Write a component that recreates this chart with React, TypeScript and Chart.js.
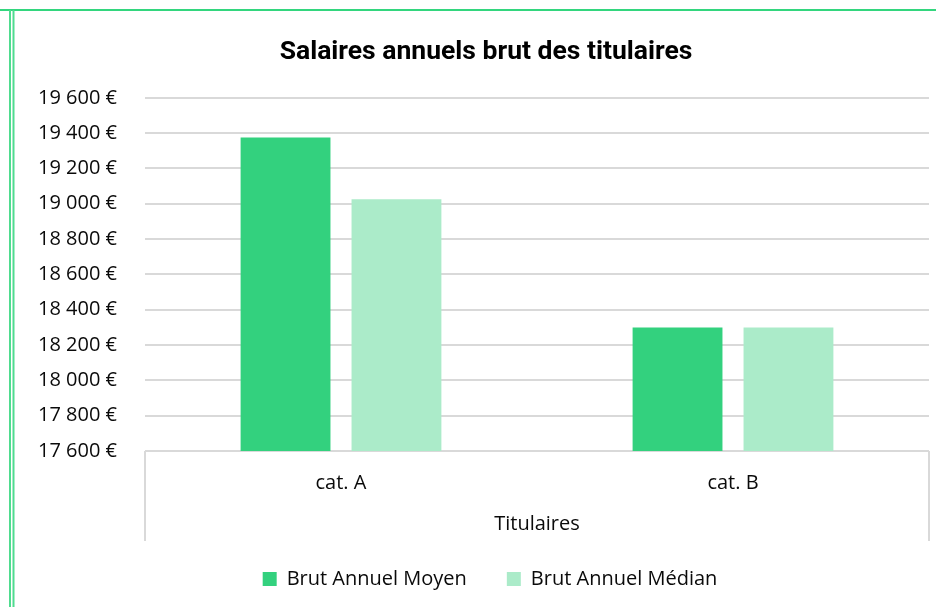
import React, { useEffect, useRef } from 'react';
import { Chart, registerables } from 'chart.js';

Chart.register(...registerables);

const chartTitle = 'Salaires annuels brut des titulaires';
const categories = ['cat. A', 'cat. B'];
const groupLabel = 'Titulaires';
const seriesNames = ['Brut Annuel Moyen', 'Brut Annuel Médian'];
const brutMoyen = [19375, 18300];
const brutMedian = [19025, 18300];
const yMin = 17600;
const yMax = 19600;
const yStep = 200;

const colMoyen = '#33D17E';
const colMedian = '#ABEBC9';
const gridCol = '#d9d9d9';
const textCol = '#0a0a0a';
const tickFont = 'Open Sans';
const fontSize = 20;

function fmtEuro(v: number): string {
  const th = Math.floor(v / 1000);
  const r = Math.round(v % 1000);
  return `${th} ${String(r).padStart(3, '0')} €`;
}

const framePlugin = {
  id: 'framePlugin',
  afterLayout(chart: any) {
    if (chart.titleBlock) {
      chart.titleBlock.left = 43;
    }
    if (chart.legend) {
      chart.legend.left = 51;
    }
  },
  beforeDraw(chart: any) {
    const ctx = chart.ctx;
    ctx.save();
    ctx.fillStyle = '#ffffff';
    ctx.fillRect(0, 0, chart.width, chart.height);
    ctx.strokeStyle = '#33d67e';
    ctx.lineWidth = 2;
    ctx.beginPath();
    ctx.moveTo(0, 10);
    ctx.lineTo(chart.width, 10);
    ctx.stroke();
    ctx.strokeStyle = '#4fdc8f';
    ctx.lineWidth = 2;
    ctx.beginPath();
    ctx.moveTo(10, 10);
    ctx.lineTo(10, chart.height);
    ctx.moveTo(13.5, 10);
    ctx.lineTo(13.5, chart.height);
    ctx.stroke();
    ctx.restore();
  },
  afterDraw(chart: any) {
    const ctx = chart.ctx;
    const { left, right, bottom } = chart.chartArea;
    ctx.save();
    ctx.strokeStyle = gridCol;
    ctx.lineWidth = 2;
    ctx.beginPath();
    ctx.moveTo(left, bottom);
    ctx.lineTo(left, bottom + 90);
    ctx.moveTo(right, bottom);
    ctx.lineTo(right, bottom + 90);
    ctx.stroke();
    ctx.fillStyle = textCol;
    ctx.font = `${fontSize}px "${tickFont}"`;
    ctx.textAlign = 'center';
    ctx.textBaseline = 'middle';
    ctx.fillText(groupLabel, (left + right) / 2, bottom + 73);
    ctx.restore();
  },
};

export default function App() {
  const ref = useRef<HTMLCanvasElement | null>(null);
  useEffect(() => {
    if (!ref.current) return;
    const chart = new Chart(ref.current, {
      type: 'bar',
      data: {
        labels: categories,
        datasets: [
          {
            label: seriesNames[0],
            data: brutMoyen,
            backgroundColor: colMoyen,
            borderWidth: 0,
            categoryPercentage: 0.566,
            barPercentage: 0.81,
          },
          {
            label: seriesNames[1],
            data: brutMedian,
            backgroundColor: colMedian,
            borderWidth: 0,
            categoryPercentage: 0.566,
            barPercentage: 0.81,
          },
        ],
      },
      options: {
        animation: false,
        responsive: true,
        maintainAspectRatio: false,
        layout: { padding: { left: 0, right: 7, top: 0, bottom: 8 } },
        plugins: {
          title: {
            display: true,
            text: chartTitle,
            color: '#000000',
            font: { family: 'Roboto', size: 26.5, weight: 'bold' },
            padding: { top: 36, bottom: 30 },
          },
          legend: {
            position: 'bottom',
            labels: {
              color: textCol,
              font: { family: tickFont, size: fontSize },
              boxWidth: 14,
              boxHeight: 14,
              padding: 40,
            },
          },
          tooltip: { enabled: false },
        },
        scales: {
          x: {
            grid: { display: false, drawTicks: false },
            border: { display: false },
            ticks: {
              color: textCol,
              font: { family: tickFont, size: fontSize },
              padding: 20,
            },
            afterFit(scale: any) {
              scale.height = 78;
            },
          },
          y: {
            min: yMin,
            max: yMax,
            grid: { color: gridCol, lineWidth: 2, drawTicks: false },
            border: { display: false },
            ticks: {
              stepSize: yStep,
              color: textCol,
              font: { family: tickFont, size: fontSize },
              padding: 28,
              callback: (v: any) => fmtEuro(Number(v)),
            },
            afterFit(scale: any) {
              scale.width = 145;
            },
          },
        },
      },
      plugins: [framePlugin],
    });
    return () => chart.destroy();
  }, []);
  return (
    <div style={{ position: 'fixed', left: 0, top: 0, width: 936, height: 607 }}>
      <canvas ref={ref} />
    </div>
  );
}
